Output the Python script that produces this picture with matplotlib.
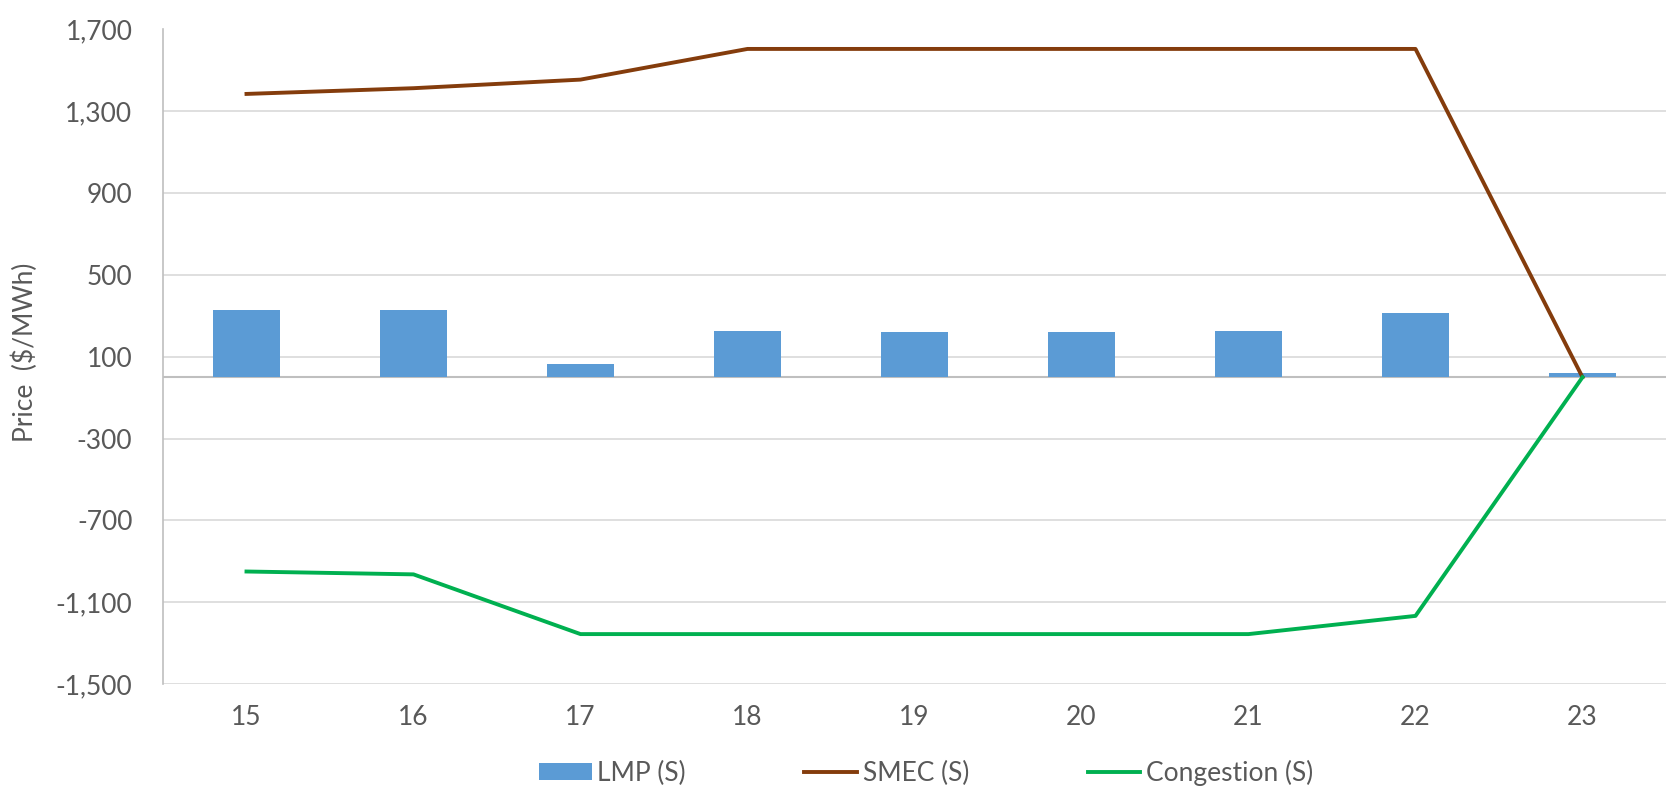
import matplotlib
matplotlib.use("Agg")
import matplotlib.pyplot as plt
import numpy as np
from matplotlib.patches import Patch
from matplotlib.lines import Line2D

hours = ["15", "16", "17", "18", "19", "20", "21", "22", "23"]
lmp = [330, 330, 66, 227, 222, 222, 227, 316, 20]
smec = [1385, 1413, 1455, 1605, 1605, 1605, 1605, 1605, 0]
congestion = [-950, -964, -1256, -1256, -1256, -1256, -1256, -1167, 0]
yticks = [-1500, -1100, -700, -300, 100, 500, 900, 1300, 1700]

plt.rcParams['font.family'] = ['Lato', 'DejaVu Sans']
txt = '#595959'
fs = 19

fig = plt.figure(figsize=(16.71, 7.90), dpi=100)
ax = fig.add_axes([163/1671, 1-684/790, (1666-163)/1671, (684-29.5)/790])

x = np.arange(len(hours))
ax.bar(x, lmp, width=0.4, color='#5B9BD5', zorder=3)
ax.plot(x, smec, color='#843C0C', lw=2.8, zorder=4)
ax.plot(x, congestion, color='#00B050', lw=2.8, zorder=4)

ax.set_xlim(-0.5, len(hours) - 0.5)
ax.set_ylim(-1500, 1700)
ax.set_yticks(yticks)
ax.set_yticklabels([f"{v:,}" for v in yticks])
ax.set_xticks(x)
ax.set_xticklabels(hours)
ax.tick_params(axis='both', length=0, labelsize=fs, colors=txt)
ax.tick_params(axis='y', pad=22)
ax.tick_params(axis='x', pad=15)
ax.grid(axis='y', color='#D9D9D9', lw=1.2, zorder=0)
ax.axhline(0, color='#BFBFBF', lw=1.5, zorder=2)
for s in ['top', 'right', 'bottom']:
    ax.spines[s].set_visible(False)
ax.spines['left'].set_color('#BFBFBF')
ax.spines['left'].set_linewidth(1.2)

fig.text(25/1671, 1-352/790, 'Price  ($/MWh)', rotation=90, ha='center', va='center',
         fontsize=fs, color=txt)

handles = [Patch(facecolor='#5B9BD5', edgecolor='none'),
           Line2D([0], [0], color='#843C0C', lw=2.8),
           Line2D([0], [0], color='#00B050', lw=2.8)]
labels = ['LMP (S)', 'SMEC (S)', 'Congestion (S)']
fig.legend(handles, labels, loc='center', bbox_to_anchor=(926/1671, 1-773/790), ncol=3,
           frameon=False, fontsize=fs, labelcolor=txt, handlelength=2.0,
           handletextpad=0.2, columnspacing=4.5, handleheight=0.6,
           borderpad=0, borderaxespad=0)

fig.savefig('out.png', dpi=100, facecolor='white')
